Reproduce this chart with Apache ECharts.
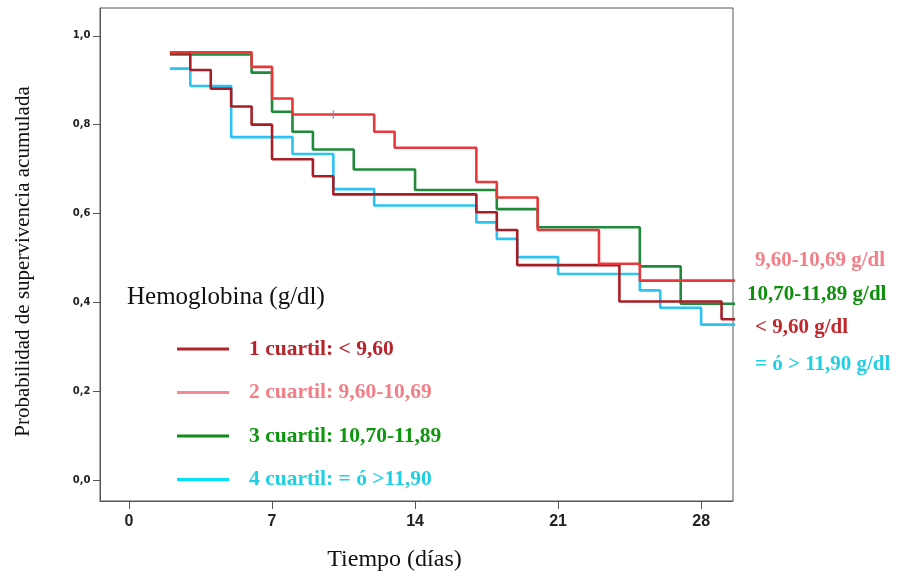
<!DOCTYPE html>
<html>
<head>
<meta charset="utf-8">
<script src="https://cdn.jsdelivr.net/npm/echarts@6/dist/echarts.min.js"></script>
<style>
html,body{margin:0;padding:0;background:#fff;}
#chart{width:898px;height:577px;}
</style>
</head>
<body>
<div id="chart"></div>
<script>
// ---- data (Kaplan-Meier steps: day of event, survival after event) ----
const seriesNames = ['1 cuartil: < 9,60', '2 cuartil: 9,60-10,69', '3 cuartil: 10,70-11,89', '4 cuartil: = ó >11,90'];
const q1Days = [2, 3, 4, 5, 6, 7, 9, 10, 17, 18, 19, 24, 29];
const q1Surv = [0.960, 0.923, 0.881, 0.841, 0.800, 0.722, 0.684, 0.643, 0.603, 0.563, 0.484, 0.402, 0.362];
const q2Days = [2, 6, 7, 8, 12, 13, 17, 18, 20, 23, 25];
const q2Surv = [0.963, 0.930, 0.859, 0.823, 0.784, 0.748, 0.671, 0.636, 0.563, 0.487, 0.449];
const q3Days = [2, 6, 7, 8, 9, 11, 14, 18, 20, 25, 27];
const q3Surv = [0.958, 0.917, 0.829, 0.784, 0.744, 0.699, 0.653, 0.610, 0.569, 0.481, 0.397];
const q4Days = [2, 3, 5, 8, 10, 12, 17, 18, 19, 21, 25, 26, 28];
const q4Surv = [0.926, 0.887, 0.772, 0.734, 0.655, 0.618, 0.580, 0.543, 0.502, 0.464, 0.427, 0.388, 0.350];
const followUpEnd = 30;
const censorDays = [10];
const censorSurv = [0.823];
const xTicks = [0, 7, 14, 21, 28];
const yTicks = [0, 0.2, 0.4, 0.6, 0.8, 1.0];
const endLabels = ['9,60-10,69 g/dl', '10,70-11,89 g/dl', '< 9,60 g/dl', '= ó > 11,90 g/dl'];

// ---- styling ----
const lineColors = ['#a81e26', '#e8383c', '#1f8a3a', '#2bc3f2'];
const legendLineColors = ['#b0222c', '#f48a92', '#108a18', '#00e2f2'];
const legendTextColors = ['#b5262c', '#f27f88', '#0e960e', '#1fd0e2'];
const endLabelColors = ['#f27f88', '#0e900e', '#c0282c', '#1fd0e2'];
const endLabelPos = [[755, 261], [747, 295], [755, 328], [755, 365]];
const serif = '"Liberation Serif", "DejaVu Serif", serif';
const narrow = '"Liberation Sans Narrow", "Liberation Sans", Arial, sans-serif';

function steps(days, surv) {
  const d = days.map((x, i) => [x, surv[i]]);
  d.push([followUpEnd, surv[surv.length - 1]]);
  return d;
}
const allData = [steps(q1Days, q1Surv), steps(q2Days, q2Surv), steps(q3Days, q3Surv), steps(q4Days, q4Surv)];

const chart = echarts.init(document.getElementById('chart'), null, {renderer: 'canvas'});
const fmt = v => v.toFixed(1).replace('.', ',');

const series = allData.map((d, i) => ({
  name: seriesNames[i],
  type: 'line',
  step: 'end',
  data: d,
  showSymbol: false,
  symbol: 'none',
  clip: true,
  lineStyle: {color: lineColors[i], width: 2.6},
  itemStyle: {color: lineColors[i]},
  z: [3, 4, 2, 1][i],
  animation: false
}));
series.push({
  type: 'scatter',
  data: censorDays.map((x, i) => [x, censorSurv[i]]),
  symbol: 'rect',
  symbolSize: [1.5, 9],
  itemStyle: {color: '#8a86b0'},
  z: 6,
  animation: false
});

const option = {
  backgroundColor: '#fff',
  animation: false,
  title: {
    text: 'Hemoglobina (g/dl)',
    left: 122,
    top: 280,
    textStyle: {fontFamily: serif, fontSize: 25, fontWeight: 'normal', color: '#111'}
  },
  legend: {
    orient: 'vertical',
    left: 172,
    top: 332,
    itemWidth: 52,
    itemHeight: 3,
    itemGap: 19.5,
    icon: 'rect',
    data: seriesNames.map((n, i) => ({
      name: n,
      icon: 'rect',
      itemStyle: {color: legendLineColors[i]},
      textStyle: {color: legendTextColors[i]}
    })),
    textStyle: {fontFamily: serif, fontSize: 21.5, fontWeight: 'bold', lineHeight: 24, padding: [0, 0, 0, 15]},
    selectedMode: false
  },
  grid: {left: 100, top: 8, right: 165, bottom: 72, show: true, borderColor: '#555', borderWidth: 1, backgroundColor: 'transparent'},
  xAxis: {
    type: 'value',
    min: -1.42,
    max: 29.56,
    name: 'Tiempo (días)',
    nameLocation: 'middle',
    nameGap: 47,
    nameTextStyle: {fontFamily: serif, fontSize: 24, color: '#111', padding: [0, 44, 0, 0]},
    axisLine: {show: true, onZero: false, lineStyle: {color: '#555', width: 1}},
    axisTick: {show: true, length: 8, customValues: xTicks, lineStyle: {color: '#555'}},
    axisLabel: {customValues: xTicks, margin: 13, fontFamily: narrow, fontWeight: 'bold', fontSize: 16, color: '#222'},
    splitLine: {show: false}
  },
  yAxis: {
    type: 'value',
    min: -0.0469,
    max: 1.0625,
    name: 'Probabilidad de supervivencia acumulada',
    nameLocation: 'middle',
    nameGap: 66,
    nameTextStyle: {fontFamily: serif, fontSize: 21, color: '#111', padding: [0, 14, 0, 0]},
    axisLine: {show: true, onZero: false, lineStyle: {color: '#555', width: 1}},
    axisTick: {show: true, length: 7, customValues: yTicks, lineStyle: {color: '#555'}},
    axisLabel: {customValues: yTicks, margin: 9.5, formatter: fmt, fontFamily: '"DejaVu Sans", sans-serif', fontWeight: 'bold', fontSize: 10, color: '#222'},
    splitLine: {show: false}
  },
  graphic: endLabels.map((t, i) => ({
    type: 'text',
    x: endLabelPos[i][0],
    y: endLabelPos[i][1],
    style: {
      text: t,
      fill: endLabelColors[i],
      font: 'bold 21px ' + serif,
      verticalAlign: 'middle'
    }
  })),
  series: series
};
chart.setOption(option);
</script>
</body>
</html>
